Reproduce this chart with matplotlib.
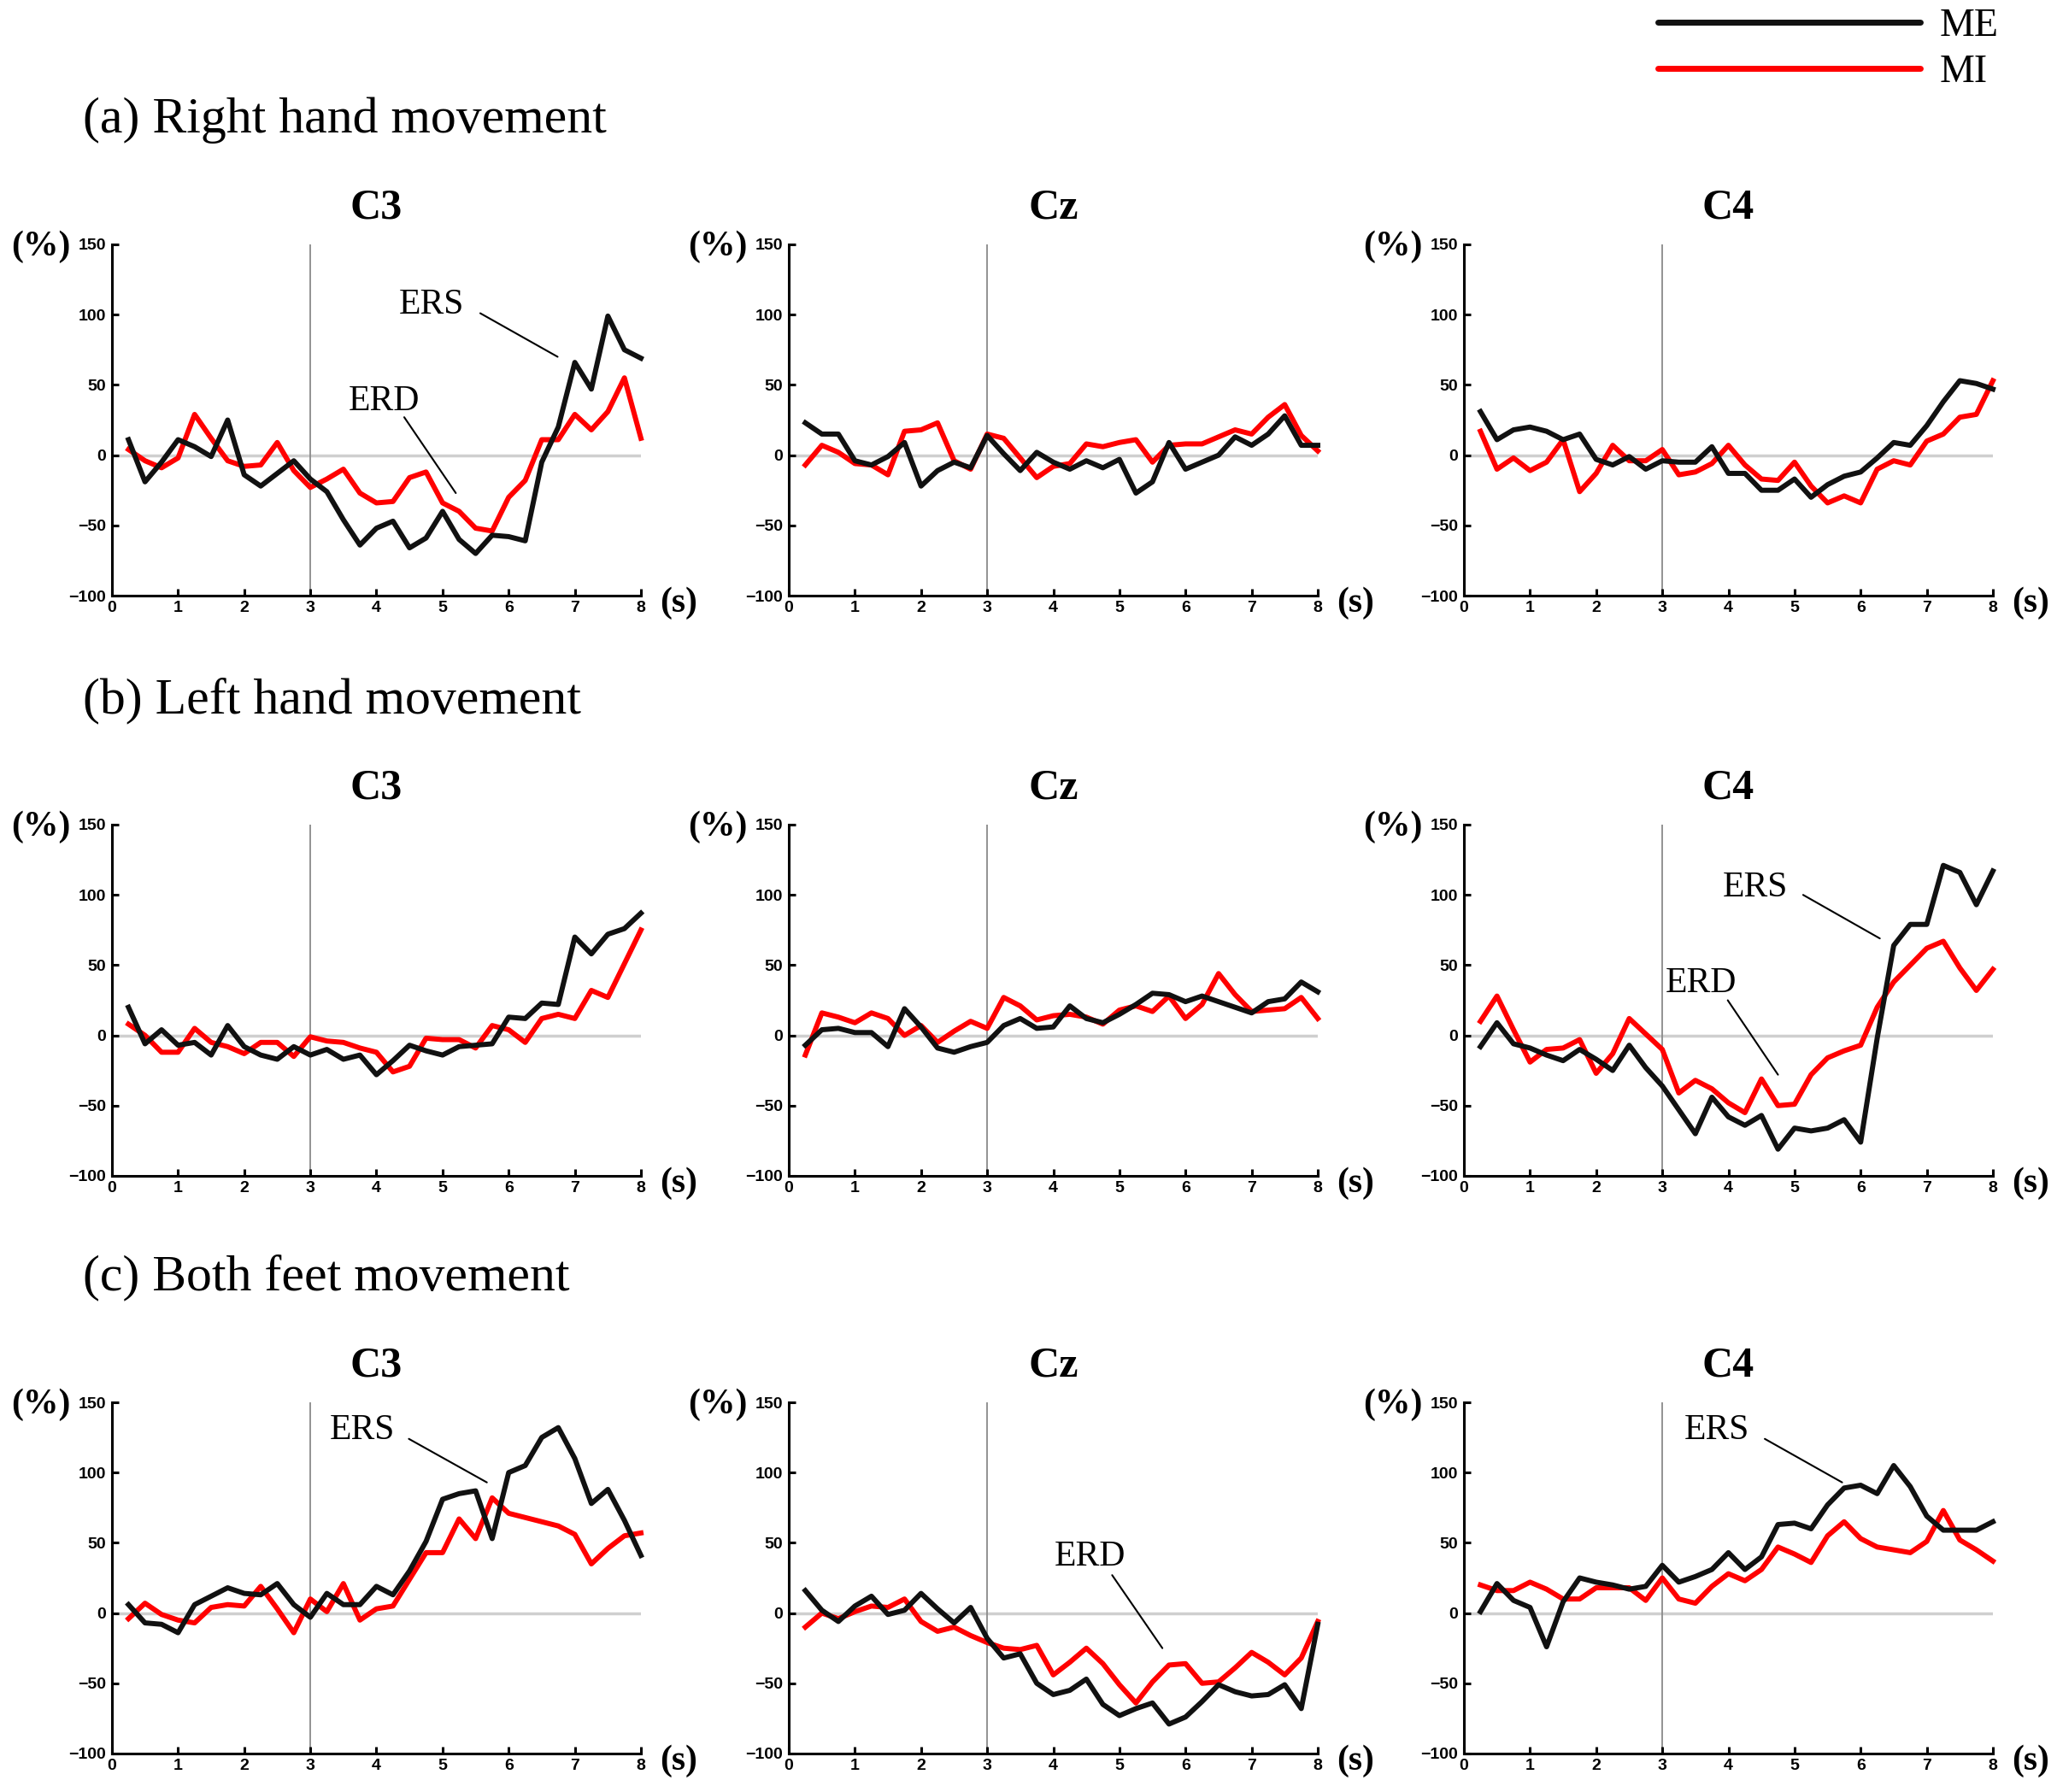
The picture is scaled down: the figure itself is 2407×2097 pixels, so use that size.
import matplotlib
matplotlib.use('Agg')
import matplotlib.pyplot as plt

plt.rcParams['font.family'] = ['Liberation Serif', 'DejaVu Serif']

# time axis (s)
times = [0.25, 0.5, 0.75, 1.0, 1.25, 1.5, 1.75, 2.0, 2.25, 2.5, 2.75, 3.0,
         3.25, 3.5, 3.75, 4.0, 4.25, 4.5, 4.75, 5.0, 5.25, 5.5, 5.75, 6.0,
         6.25, 6.5, 6.75, 7.0, 7.25, 7.5, 7.75, 8.0]

# (a) right hand movement
right_c3_me = [11, -19, -5, 11, 6, -1, 25, -14, -22, -13, -4, -17, -26, -46, -64, -52,
               -47, -66, -59, -40, -60, -70, -57, -58, -61, -5, 20, 66, 47, 99, 75, 69]
right_c3_mi = [4, -4, -9, -2, 29, 12, -4, -8, -7, 9, -11, -23, -17, -10, -27, -34,
               -33, -16, -12, -34, -40, -52, -54, -30, -18, 11, 11, 29, 18, 31, 55, 12]
right_cz_me = [23, 15, 15, -4, -7, -1, 9, -22, -11, -5, -9, 14, 1, -11, 2, -5,
               -10, -4, -9, -3, -27, -19, 9, -10, -5, 0, 13, 7, 15, 28, 7, 7]
right_cz_mi = [-7, 7, 2, -6, -7, -14, 17, 18, 23, -4, -10, 15, 12, -2, -16, -8,
               -6, 8, 6, 9, 11, -5, 7, 8, 8, 13, 18, 15, 27, 36, 14, 3]
right_c4_me = [31, 11, 18, 20, 17, 11, 15, -3, -7, -1, -10, -4, -5, -5, 6, -13,
               -13, -25, -25, -17, -30, -21, -15, -12, -2, 9, 7, 21, 38, 53, 51, 47]
right_c4_mi = [17, -10, -2, -11, -5, 11, -26, -13, 7, -4, -4, 4, -14, -12, -6, 7,
               -7, -17, -18, -5, -22, -34, -29, -34, -10, -4, -7, 10, 15, 27, 29, 53]

# (b) left hand movement
left_c3_me = [20, -6, 4, -7, -5, -14, 7, -8, -14, -17, -8, -14, -10, -17, -14, -28,
              -18, -7, -11, -14, -8, -7, -6, 13, 12, 23, 22, 70, 58, 72, 76, 87]
left_c3_mi = [8, 0, -12, -12, 5, -5, -8, -13, -5, -5, -15, -1, -4, -5, -9, -12,
              -26, -22, -2, -3, -3, -9, 7, 4, -5, 12, 15, 12, 32, 27, 51, 75]
left_cz_me = [-7, 4, 5, 2, 2, -8, 19, 6, -9, -12, -8, -5, 7, 12, 5, 6,
              21, 12, 9, 15, 22, 30, 29, 24, 28, 24, 20, 16, 24, 26, 38, 31]
left_cz_mi = [-14, 16, 13, 9, 16, 12, 0, 7, -5, 3, 10, 5, 27, 21, 11, 14,
              15, 13, 8, 18, 21, 17, 28, 12, 22, 44, 29, 17, 18, 19, 27, 12]
left_c4_me = [-8, 9, -6, -9, -14, -18, -10, -17, -25, -7, -23, -36, -53, -70, -44, -58,
              -64, -57, -81, -66, -68, -66, -60, -76, -2, 64, 79, 79, 121, 116, 93, 117]
left_c4_mi = [10, 28, 4, -19, -10, -9, -3, -27, -13, 12, 1, -10, -41, -32, -38, -48,
              -55, -31, -50, -49, -28, -16, -11, -7, 20, 38, 50, 62, 67, 48, 32, 47]

# (c) both feet movement
feet_c3_me = [6, -7, -8, -14, 6, 12, 18, 14, 13, 21, 6, -3, 14, 6, 6, 19,
              13, 30, 51, 81, 85, 87, 53, 100, 105, 125, 132, 110, 78, 88, 66, 41]
feet_c3_mi = [-4, 7, -1, -5, -7, 4, 6, 5, 19, 3, -14, 10, 1, 21, -5, 3,
              5, 24, 43, 43, 67, 53, 82, 71, 68, 65, 62, 56, 35, 46, 55, 57]
feet_cz_me = [16, 2, -6, 5, 12, -1, 2, 14, 3, -7, 4, -18, -32, -29, -50, -58,
              -55, -47, -65, -73, -68, -64, -79, -74, -63, -51, -56, -59, -58, -51, -68, -8]
feet_cz_mi = [-10, 0, -4, 1, 5, 4, 10, -6, -13, -10, -16, -21, -25, -26, -23, -44,
              -35, -25, -36, -51, -64, -49, -37, -36, -50, -49, -39, -28, -35, -44, -32, -6]
feet_c4_me = [1, 21, 9, 4, -24, 8, 25, 22, 20, 17, 19, 34, 22, 26, 31, 43,
              31, 40, 63, 64, 60, 77, 89, 91, 85, 105, 90, 69, 59, 59, 59, 65]
feet_c4_mi = [20, 16, 16, 22, 17, 10, 10, 18, 18, 18, 9, 25, 10, 7, 19, 28,
              23, 31, 47, 42, 36, 55, 65, 53, 47, 45, 43, 51, 73, 52, 45, 37]

row_titles = ['(a) Right hand movement', '(b) Left hand movement', '(c) Both feet movement']
channels = ['C3', 'Cz', 'C4']
me_data = [[right_c3_me, right_cz_me, right_c4_me],
           [left_c3_me, left_cz_me, left_c4_me],
           [feet_c3_me, feet_cz_me, feet_c4_me]]
mi_data = [[right_c3_mi, right_cz_mi, right_c4_mi],
           [left_c3_mi, left_cz_mi, left_c4_mi],
           [feet_c3_mi, feet_cz_mi, feet_c4_mi]]

# ERS / ERD notes: (row, col) -> [(label, text x, text baseline y, line start, line end)]
notes = {
    (0, 0): [('ERS', 4.83, 101, (5.57, 101), (6.74, 70)),
             ('ERD', 4.11, 32, (4.42, 27), (5.20, -27))],
    (1, 2): [('ERS', 4.40, 99, (5.13, 100), (6.29, 69)),
             ('ERD', 3.59, 31, (3.99, 25), (4.75, -28))],
    (2, 0): [('ERS', 3.78, 124, (4.49, 124), (5.67, 93))],
    (2, 1): [('ERD', 4.56, 34, (4.89, 27), (5.65, -25))],
    (2, 2): [('ERS', 3.82, 124, (4.55, 124), (5.72, 93))],
}

W, H = 2407, 2097
fig = plt.figure(figsize=(W / 100, H / 100), dpi=100)

col_left = [131, 923, 1713]
row_top = [286, 965, 1641]
title_y = [141, 820, 1495]
ax_w, ax_h = 619, 411

tick_font = dict(family=['Liberation Sans', 'DejaVu Sans'], weight='bold', size=14)

first_lines = None
for r in range(3):
    fig.text(97 / W, 1 - title_y[r] / H, row_titles[r], fontsize=43,
             ha='left', va='center')
    for c in range(3):
        rect = [col_left[c] / W, 1 - (row_top[r] + ax_h) / H, ax_w / W, ax_h / H]
        ax = fig.add_axes(rect)
        ax.axhline(0, color='#cfcfcf', lw=2.5, zorder=1)
        ax.axvline(3, color='#8a8a8a', lw=1.3, zorder=1)
        l_mi, = ax.plot(times, mi_data[r][c], color='#ff0000', lw=4.3,
                        solid_joinstyle='round', zorder=3, clip_on=False, label='MI')
        l_me, = ax.plot(times, me_data[r][c], color='#111111', lw=4.3,
                        solid_joinstyle='round', zorder=4, clip_on=False, label='ME')
        if first_lines is None:
            first_lines = [l_me, l_mi]

        ax.set_xlim(0, 8)
        ax.set_ylim(-100, 150)
        ax.set_xticks(range(0, 9))
        ax.set_yticks([-100, -50, 0, 50, 100, 150])
        for s in ['top', 'right']:
            ax.spines[s].set_visible(False)
        for s in ['left', 'bottom']:
            ax.spines[s].set_linewidth(2.2)
        ax.tick_params(axis='both', direction='in', length=6, width=2.2)
        ax.tick_params(axis='x', pad=4)
        ax.tick_params(axis='y', pad=5)
        for lab in ax.get_xticklabels() + ax.get_yticklabels():
            lab.set_fontproperties(tick_font)
            lab.set_fontsize(14)

        ax.set_title(channels[c], fontsize=36, fontweight='bold', pad=22)
        ax.annotate('(%)', xy=(0, 1), xycoords='axes fraction',
                    xytext=(-60, -2), textcoords='offset points',
                    ha='center', va='center', fontsize=30, fontweight='bold')
        ax.annotate('(s)', xy=(1, 0), xycoords='axes fraction',
                    xytext=(32, -6), textcoords='offset points',
                    ha='center', va='center', fontsize=30, fontweight='bold')

        for label, tx, ty, p0, p1 in notes.get((r, c), []):
            ax.text(tx, ty, label, fontsize=30, ha='center', va='baseline', zorder=5)
            ax.annotate('', xy=p1, xytext=p0,
                        arrowprops=dict(arrowstyle='-', color='black', lw=1.5,
                                        shrinkA=0, shrinkB=0))

leg = fig.legend(first_lines, ['ME', 'MI'], loc='center left',
                 bbox_to_anchor=(1940 / W, 1 - 58 / H), frameon=False, fontsize=33,
                 handlelength=6.7, handletextpad=0.5, labelspacing=0.24,
                 borderpad=0, borderaxespad=0)
for h in leg.legend_handles:
    h.set_linewidth(5)
    h.set_solid_capstyle('round')

fig.savefig('out.png', dpi=100)
